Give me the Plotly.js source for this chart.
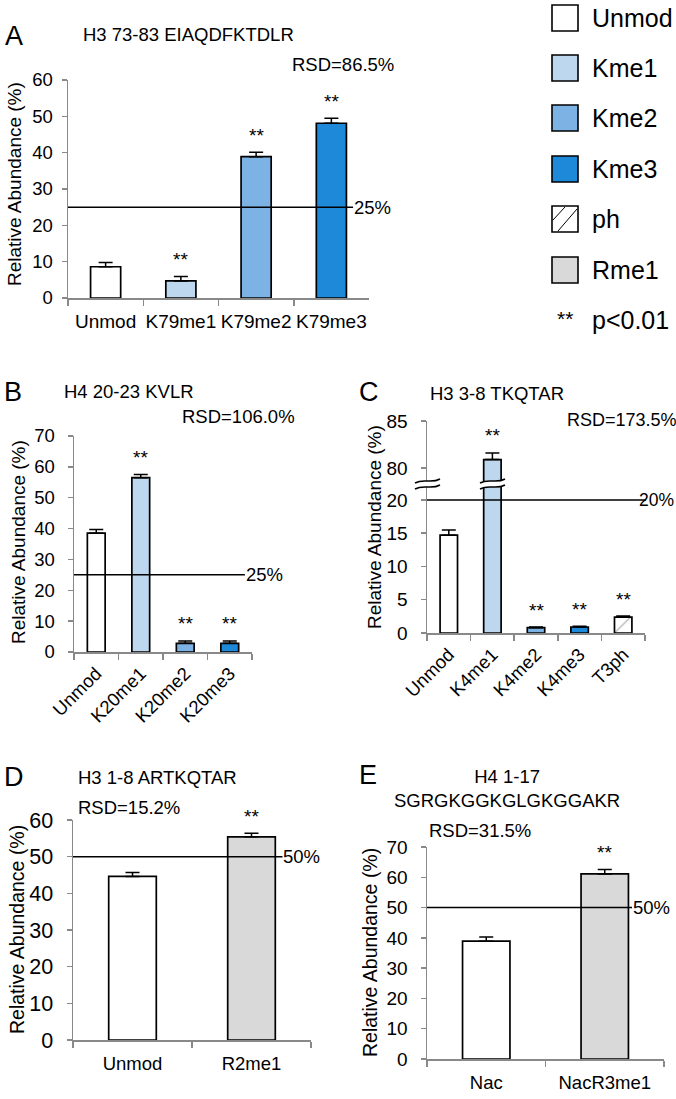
<!DOCTYPE html>
<html><head><meta charset="utf-8">
<script src="https://cdn.plot.ly/plotly-3.0.1.min.js"></script>
<style>html,body{margin:0;padding:0;background:#fff;}#chart{width:676px;height:1099px;}</style>
</head><body><div id="chart"></div>
<script>
// ---------- data ----------
const catsA = ['Unmod','K79me1','K79me2','K79me3'];
const valsA = [8.6, 4.7, 38.9, 48.1];
const errA  = [1.2, 1.2, 1.2, 1.4];
const sigA  = [false, true, true, true];

const catsB = ['Unmod','K20me1','K20me2','K20me3'];
const valsB = [38.5, 56.5, 2.8, 2.8];
const errB  = [1.2, 1.0, 0.8, 0.8];
const sigB  = [false, true, true, true];

const catsC = ['Unmod','K4me1','K4me2','K4me3','T3ph'];
const valsC = [14.7, 80.9, 0.8, 0.9, 2.4];
const errC  = [0.8, 0.7, 0.1, 0.1, 0.15];
const sigC  = [false, true, true, true, true];

const catsD = ['Unmod','R2me1'];
const valsD = [44.6, 55.4];
const errD  = [1.1, 1.0];
const sigD  = [false, true];

const catsE = ['Nac','NacR3me1'];
const valsE = [38.9, 61.1];
const errE  = [1.4, 1.5];
const sigE  = [false, true];

const titles = ['H3 73-83 EIAQDFKTDLR','H4 20-23 KVLR','H3 3-8 TKQTAR','H3 1-8 ARTKQTAR','H4 1-17<br>SGRGKGGKGLGKGGAKR'];
const rsd = ['RSD=86.5%','RSD=106.0%','RSD=173.5%','RSD=15.2%','RSD=31.5%'];
const refLines = [25, 25, 20, 50, 50];
const legendNames = ['Unmod','Kme1','Kme2','Kme3','ph','Rme1'];

// ---------- styles ----------
const COL = {Unmod:'#ffffff', Kme1:'#bdd7ee', Kme2:'#7db2e4', Kme3:'#1f89d9', ph:'#ffffff', Rme1:'#d9d9d9'};
const FONT = 'Liberation Sans, Arial, sans-serif';
const AXC = '#898989';
const W = 676, H = 1099;
const fx = p => p / W;
const fy = p => 1 - p / H;

const typesA = ['Unmod','Kme1','Kme2','Kme3'];
const typesC = ['Unmod','Kme1','Kme2','Kme3','ph'];
const typesD = ['Unmod','Rme1'];

function barTrace(cats, vals, errs, types, xa, ya) {
  return {
    type:'bar', x:cats, y:vals, xaxis:xa, yaxis:ya, width:0.4,
    marker:{color:types.map(t=>COL[t]), line:{color:'#000', width:1.7},
      pattern:{shape:types.map(t=>t==='ph'?'/':''), fillmode:'overlay', fgcolor:'#000', size:17, solidity:0.06}},
    error_y:{type:'data', array:errs, arrayminus:errs.map(()=>0), symmetric:false, color:'#000', thickness:1.5, width:7},
    showlegend:false, hoverinfo:'skip', cliponaxis:true
  };
}

const traces = [
  barTrace(catsA, valsA, errA, typesA, 'x', 'y'),
  barTrace(catsB, valsB, errB, typesA, 'x2', 'y2'),
  barTrace(catsC, valsC, errC, typesC, 'x3', 'y3'),
  barTrace(catsC, valsC, errC, typesC, 'x3', 'y4'),
  barTrace(catsD, valsD, errD, typesD, 'x4', 'y5'),
  barTrace(catsE, valsE, errE, typesD, 'x5', 'y6')
];

function xax(l, r, anchor, angle, fs) {
  return {domain:[fx(l), fx(r)], anchor:anchor, type:'category', showline:true, linecolor:AXC, linewidth:1.5,
    ticks:'outside', tickson:'boundaries', ticklen:6, tickcolor:AXC, tickwidth:1.5, tickangle:angle,
    tickfont:{family:FONT, size:fs, color:'#000'}, showgrid:false, zeroline:false, fixedrange:true, ticklabelstandoff: angle? 2 : 6};
}
function yax(bot, top, range, tickvals, anchor, fs, so) {
  return {domain:[fy(bot), fy(top)], anchor:anchor, range:range, tickvals:tickvals, showline:true, linecolor:AXC, linewidth:1.5,
    ticks:'outside', ticklen:5, tickcolor:AXC, tickwidth:1.5, tickfont:{family:FONT, size:fs, color:'#000'},
    showgrid:false, zeroline:false, fixedrange:true, ticklabelstandoff:so};
}

const layout = {
  width:W, height:H, margin:{l:0, r:0, t:0, b:0}, paper_bgcolor:'#fff', plot_bgcolor:'rgba(0,0,0,0)',
  font:{family:FONT, color:'#000'}, showlegend:false, bargap:0.6,
  xaxis:  xax(68, 369, 'y', 0, 19),
  yaxis:  yax(298, 80, [0,60], [0,10,20,30,40,50,60], 'x', 18.5, 5),
  xaxis2: xax(74, 252, 'y2', -45, 18.5),
  yaxis2: yax(652, 436, [0,70], [0,10,20,30,40,50,60,70], 'x2', 18.5, 9),
  xaxis3: xax(427, 645, 'y3', -45, 18.5),
  yaxis3: yax(633, 484, [0,22.4], [0,5,10,15,20], 'x3', 19, 9),
  yaxis4: yax(484, 421, [78.3,85], [80,85], 'x3', 19, 9),
  xaxis4: xax(73, 311, 'y5', 0, 18.5),
  yaxis5: yax(1040, 820, [0,60], [0,10,20,30,40,50,60], 'x4', 21.5, 9),
  xaxis5: xax(427, 664, 'y6', 0, 18.5),
  yaxis6: yax(1059, 847, [0,70], [0,10,20,30,40,50,60,70], 'x5', 19, 9),
  annotations:[], shapes:[]
};

const A = layout.annotations, S = layout.shapes;
function txt(x, y, text, size, xanchor, extra) {
  A.push(Object.assign({xref:'paper', yref:'paper', x:fx(x), y:fy(y), text:text, showarrow:false,
    xanchor:xanchor||'left', yanchor:'middle', font:{family:FONT, size:size, color:'#000'}}, extra||{}));
}

// significance stars
function stars(cats, vals, errs, sig, xa, yaFn) {
  cats.forEach((c,i)=>{ if(!sig[i]) return;
    A.push({xref:xa, yref:yaFn(vals[i]), x:c, y:vals[i]+errs[i], text:'**', showarrow:false, yanchor:'middle', yshift:17,
      font:{family:FONT, size:19, color:'#000'}});
  });
}
stars(catsA, valsA, errA, sigA, 'x', ()=> 'y');
stars(catsB, valsB, errB, sigB, 'x2', ()=> 'y2');
stars(catsC, valsC, errC, sigC, 'x3', v=> v>22.4 ? 'y4' : 'y3');
stars(catsD, valsD, errD, sigD, 'x4', ()=> 'y5');
stars(catsE, valsE, errE, sigE, 'x5', ()=> 'y6');

// reference lines with labels
const refAx = [['x','y',0.947,0],['x2','y2',0.96,0],['x3','y3',1.005,1],['x4','y5',0.88,0],['x5','y6',0.865,0]];
refAx.forEach((r,i)=>{
  S.push({type:'line', xref:r[0]+' domain', yref:r[1], x0:0, x1:r[2], y0:refLines[i], y1:refLines[i], line:{color:'#000', width:1.5}});
  if (r[3]) {
    A.push({xref:'paper', yref:r[1], x:1, y:refLines[i], text:refLines[i]+'%', showarrow:false, xanchor:'right', yanchor:'middle',
      font:{family:FONT, size:17.5, color:'#000'}});
  } else {
    A.push({xref:r[0]+' domain', yref:r[1], x:r[2], y:refLines[i], text:refLines[i]+'%', showarrow:false, xanchor:'left', yanchor:'middle',
      xshift:-1, font:{family:FONT, size:18.5, color:'#000'}});
  }
});

// panel letters, titles, RSD
txt(3, 36, 'A', 27); txt(81, 35, titles[0], 18.5); txt(290, 64, rsd[0], 18.5);
txt(2, 392, 'B', 27); txt(62, 392, titles[1], 18.5); txt(180, 417, rsd[1], 18.5);
txt(357, 392, 'C', 27); txt(428, 393, titles[2], 18.5); txt(565, 420, rsd[2], 18);
txt(2, 777, 'D', 27); txt(76, 777, titles[3], 18.5); txt(76, 807, rsd[3], 18.5);
txt(357, 775, 'E', 27); txt(507, 788, titles[4], 18.5, 'center'); txt(427, 830, rsd[4], 18.5);

// y-axis titles
const yt = 'Relative Abundance (%)';
[[15,184,19],[18,542,19],[374,527,19],[17,930,19.5],[370,953,19.5]].forEach(p=>txt(p[0], p[1], yt, p[2], 'center', {textangle:-90}));

// axis break marks (panel C)
function wave(x0, x1, y) {
  const w = x1 - x0;
  return `M ${fx(x0)} ${fy(y+2)} C ${fx(x0+w*0.35)} ${fy(y-3)}, ${fx(x0+w*0.65)} ${fy(y+3)}, ${fx(x1)} ${fy(y-2)}`;
}
function brk(x0, x1) {
  const w = x1 - x0, y1 = 481, y2 = 487;
  const fill = `M ${fx(x0)} ${fy(y1+2)} C ${fx(x0+w*0.35)} ${fy(y1-3)}, ${fx(x0+w*0.65)} ${fy(y1+3)}, ${fx(x1)} ${fy(y1-2)} L ${fx(x1)} ${fy(y2-2)} C ${fx(x0+w*0.65)} ${fy(y2+3)}, ${fx(x0+w*0.35)} ${fy(y2-3)}, ${fx(x0)} ${fy(y2+2)} Z`;
  S.push({type:'path', xref:'paper', yref:'paper', path:fill, fillcolor:'#fff', line:{width:0}});
  S.push({type:'path', xref:'paper', yref:'paper', path:wave(x0,x1,y1), line:{color:'#000', width:1.5}});
  S.push({type:'path', xref:'paper', yref:'paper', path:wave(x0,x1,y2), line:{color:'#000', width:1.5}});
}
brk(415, 440); brk(480, 505);

// legend
const legY = [18, 68, 118, 169, 219, 270];
legendNames.forEach((n,i)=>{
  const y = legY[i], x0 = 552, x1 = 578;
  S.push({type:'rect', xref:'paper', yref:'paper', x0:fx(x0), x1:fx(x1), y0:fy(y+13), y1:fy(y-13), fillcolor:COL[n], line:{color:'#000', width:1.6}});
  if (n === 'ph') {
    S.push({type:'line', xref:'paper', yref:'paper', x0:fx(x0+1), y0:fy(y+1), x1:fx(x0+13), y1:fy(y-12), line:{color:'#000', width:1}});
    S.push({type:'line', xref:'paper', yref:'paper', x0:fx(x0+6), y0:fy(y+12), x1:fx(x1-1), y1:fy(y-10), line:{color:'#000', width:1}});
  }
  txt(590, y, n, 25);
});
txt(565, 318, '**', 21, 'center');
txt(590, 320, 'p&lt;0.01', 25);

Plotly.newPlot('chart', traces, layout, {staticPlot:true});
</script></body></html>
